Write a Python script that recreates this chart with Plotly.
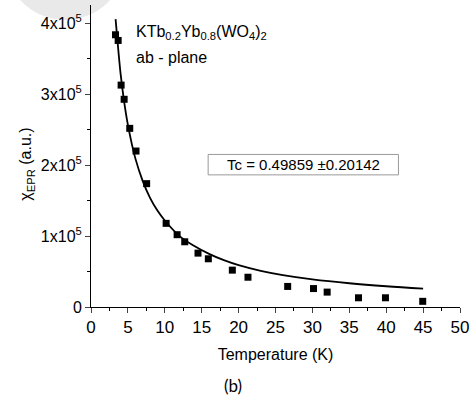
import plotly.graph_objects as go

# Measured data (Temperature K, chi_EPR a.u.)
temp_data = [3.32, 3.68, 4.08, 4.49, 5.25, 6.1, 7.54, 10.18, 11.67, 12.7, 14.5, 15.9,
             19.15, 21.27, 26.65, 30.15, 32.0, 36.25, 39.9, 44.95]
chi_data = [384000, 376000, 313000, 293000, 252000, 220000, 174000, 118000, 102000, 92000,
            76000, 68000, 52000, 42000, 29000, 26000, 21000, 13000, 13000, 8000]

# Fit curve
temp_fit = [3.33, 3.5, 4.0, 4.5, 5.0, 6.0, 7.0, 8.0, 9.0, 10.0, 12.0, 14.0, 16.0, 18.0,
            20.0, 23.0, 26.0, 30.0, 35.0, 40.0, 45.0]
chi_fit = [406000, 386000, 330000, 289000, 257000, 210000, 178000, 154000, 136000, 122000,
           100000, 86000, 75000, 66000, 59000, 51000, 45000, 39000, 33500, 29300, 26000]

x_ticks = [0, 5, 10, 15, 20, 25, 30, 35, 40, 45, 50]
y_tickvals = [0, 100000, 200000, 300000, 400000]
y_ticktext = ["0", "1x10<sup>5</sup>", "2x10<sup>5</sup>", "3x10<sup>5</sup>", "4x10<sup>5</sup>"]

FONT = "Liberation Sans, Arial, sans-serif"

fig = go.Figure()
fig.add_trace(go.Scatter(x=temp_fit, y=chi_fit, mode="lines", line=dict(color="black", width=1.8, shape="spline"),
                         showlegend=False, hoverinfo="skip"))
fig.add_trace(go.Scatter(x=temp_data, y=chi_data, mode="markers",
                         marker=dict(symbol="square", size=7, color="black"), showlegend=False))

L, R, T, B = 91, 11.3, 5, 94.3
W, H = 474, 401
pw, ph = W - L - R, H - T - B

def px(xp):
    return (xp - L) / pw

def py(yp):
    return (H - B - yp) / ph

fig.update_layout(
    width=W, height=H,
    margin=dict(l=L, r=R, t=T, b=B, pad=0),
    paper_bgcolor="white", plot_bgcolor="white",
    font=dict(family=FONT, size=16, color="black"),
    xaxis=dict(range=[0, 50], tickvals=x_ticks, ticks="outside", ticklen=5, tickwidth=1,
               showline=True, linecolor="black", linewidth=1, showgrid=False, zeroline=False,
               tickfont=dict(size=17),
               minor=dict(dtick=2.5, tick0=0, ticks="outside", ticklen=3, tickwidth=1, tickcolor="black", showgrid=False),
               title=dict(text="Temperature (K)", font=dict(size=16), standoff=12)),
    yaxis=dict(range=[0, 426000], tickvals=y_tickvals, ticktext=y_ticktext, ticks="outside",
               ticklen=5, tickwidth=1, showline=True, linecolor="black", linewidth=1,
               showgrid=False, zeroline=False, tickfont=dict(size=16),
               minor=dict(dtick=50000, tick0=0, ticks="outside", ticklen=3, tickwidth=1, tickcolor="black", showgrid=False)),
    shapes=[
        dict(type="circle", xref="paper", yref="paper", x0=px(4), x1=px(126), y0=py(20), y1=py(-102),
             fillcolor="#e9e9e9", line=dict(width=0), layer="below"),
        dict(type="rect", xref="paper", yref="paper", x0=px(209), x1=px(400.7), y0=py(174.7), y1=py(154.3),
             fillcolor="rgba(0,0,0,0)", line=dict(color="#999999", width=1)),
    ],
    annotations=[
        dict(text="χ<sub>EPR</sub> (a.u.)", xref="paper", yref="paper", textangle=-90,
             x=px(26), y=py(164), xanchor="center", yanchor="middle", showarrow=False, font=dict(size=16)),
        dict(text="KTb<sub>0.2</sub>Yb<sub>0.8</sub>(WO<sub>4</sub>)<sub>2</sub>", xref="paper", yref="paper",
             x=px(134), y=py(32), xanchor="left", yanchor="middle", showarrow=False, font=dict(size=16)),
        dict(text="ab - plane", xref="paper", yref="paper",
             x=px(134), y=py(57), xanchor="left", yanchor="middle", showarrow=False, font=dict(size=16)),
        dict(text="Tc = 0.49859 ±0.20142", xref="paper", yref="paper",
             x=px(305), y=py(164.5), xanchor="center", yanchor="middle", showarrow=False, font=dict(size=15)),
        dict(text="(b)", xref="paper", yref="paper",
             x=px(234), y=py(385), xanchor="center", yanchor="middle", showarrow=False,
             font=dict(size=17, family="Lato, Open Sans, sans-serif")),
    ],
)

fig.write_html("out.html")
